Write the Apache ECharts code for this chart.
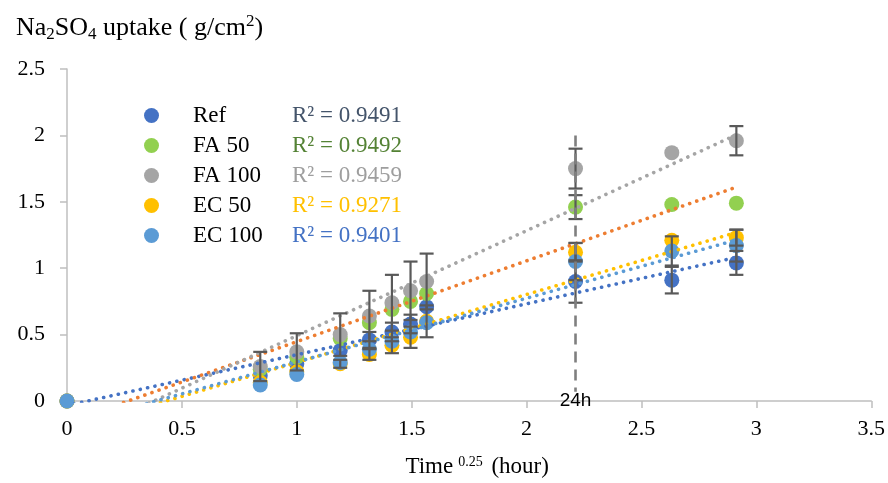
<!DOCTYPE html>
<html>
<head>
<meta charset="utf-8">
<script src="https://cdn.jsdelivr.net/npm/echarts@6/dist/echarts.min.js"></script>
<style>
  html, body { margin: 0; padding: 0; background: #ffffff; }
  #chart { width: 888px; height: 483px; }
</style>
</head>
<body>
<div id="chart"></div>
<script>
// Time^0.25 for 0, 0.5, 1, 2, 3, 4, 5, 6, 24, 48, 72 hours
const timeRoot = [0, 0.841, 1, 1.189, 1.316, 1.414, 1.495, 1.565, 2.213, 2.632, 2.913];

// Na2SO4 uptake (g/cm2) per mix
const refUptake   = [0, 0.19, 0.28, 0.38, 0.46, 0.52, 0.58, 0.71, 0.90, 0.91, 1.04];
const fa50Uptake  = [0, 0.24, 0.33, 0.47, 0.59, 0.69, 0.75, 0.81, 1.46, 1.48, 1.49];
const fa100Uptake = [0, 0.26, 0.37, 0.50, 0.64, 0.74, 0.83, 0.90, 1.75, 1.87, 1.96];
const ec50Uptake  = [0, 0.14, 0.22, 0.28, 0.35, 0.42, 0.48, 0.60, 1.12, 1.21, 1.23];
const ec100Uptake = [0, 0.12, 0.20, 0.29, 0.39, 0.45, 0.52, 0.59, 1.05, 1.13, 1.17];

// Standard deviations (null = no error bar shown)
const refErr   = [null, null, null, null, 0.06, 0.07, 0.07, null, 0.16, 0.10, 0.09];
const fa50Err  = [null, null, null, null, null, null, null, null, 0.09, null, null];
const fa100Err = [null, 0.11, 0.14, 0.16, 0.19, 0.21, 0.22, 0.21, 0.15, null, 0.11];
const ec50Err  = [null, null, null, 0.03, 0.04, 0.06, 0.08, 0.12, 0.07, null, 0.06];
const ec100Err = [null, null, null, null, null, null, null, null, 0.14, 0.11, 0.12];

const seriesNames = ['Ref', 'FA 50', 'FA 100', 'EC 50', 'EC 100'];
const r2Labels = ['0.9491', '0.9492', '0.9459', '0.9271', '0.9401'];

const xTicks = [0, 0.5, 1, 1.5, 2, 2.5, 3, 3.5];
const yTicks = [0, 0.5, 1, 1.5, 2, 2.5];

// Vertical marker at 24 h
const marker24h = { x: 2.213, yTop: 2.0, yBottom: 0.07, label: '24h' };

const markerColors = ['#4472C4', '#92D050', '#A5A5A5', '#FFC000', '#5B9BD5'];
const trendColors  = ['#4472C4', '#ED7D31', '#A5A5A5', '#FFC000', '#5B9BD5'];
const r2Colors     = ['#44546A', '#548235', '#9E9E9E', '#FFC000', '#4472C4'];

const uptake = [refUptake, fa50Uptake, fa100Uptake, ec50Uptake, ec100Uptake];
const errors = [refErr, fa50Err, fa100Err, ec50Err, ec100Err];

const serif = 'Liberation Serif';

// Least-squares linear fit, drawn over the measured time range
function linearFit(xs, ys) {
  const n = xs.length;
  const mx = xs.reduce((a, b) => a + b, 0) / n;
  const my = ys.reduce((a, b) => a + b, 0) / n;
  let sxy = 0, sxx = 0;
  for (let i = 0; i < n; i++) {
    sxy += (xs[i] - mx) * (ys[i] - my);
    sxx += (xs[i] - mx) * (xs[i] - mx);
  }
  const slope = sxy / sxx;
  return { slope, intercept: my - slope * mx };
}

const series = [];

// Scatter markers
seriesNames.forEach((name, i) => {
  series.push({
    name,
    type: 'scatter',
    symbol: 'circle',
    symbolSize: 15,
    itemStyle: { color: markerColors[i], opacity: 1 },
    z: 2,
    data: timeRoot.map((t, k) => [t, uptake[i][k]])
  });
});

// Error bars
const errData = [];
errors.forEach((arr, i) => {
  arr.forEach((e, k) => {
    if (e != null) errData.push([timeRoot[k], uptake[i][k], e]);
  });
});
series.push({
  type: 'custom',
  name: 'errors',
  z: 4,
  silent: true,
  renderItem: function (params, api) {
    const x = api.value(0), y = api.value(1), e = api.value(2);
    const top = api.coord([x, y + e]);
    const bot = api.coord([x, Math.max(0, y - e)]);
    const half = 7;
    const style = { stroke: '#595959', lineWidth: 2.2 };
    return {
      type: 'group',
      children: [
        { type: 'line', shape: { x1: top[0], y1: top[1], x2: bot[0], y2: bot[1] }, style },
        { type: 'line', shape: { x1: top[0] - half, y1: top[1], x2: top[0] + half, y2: top[1] }, style },
        { type: 'line', shape: { x1: bot[0] - half, y1: bot[1], x2: bot[0] + half, y2: bot[1] }, style }
      ]
    };
  },
  data: errData
});

// Linear trendlines (dotted)
seriesNames.forEach((name, i) => {
  const fit = linearFit(timeRoot, uptake[i]);
  const x0 = timeRoot[0], x1 = timeRoot[timeRoot.length - 1];
  series.push({
    name: name + ' trend',
    type: 'line',
    symbol: 'none',
    clip: true,
    silent: true,
    z: 3,
    lineStyle: { color: trendColors[i], width: 3.6, type: [0.1, 7.4], cap: 'round' },
    data: [[x0, fit.intercept + fit.slope * x0], [x1, fit.intercept + fit.slope * x1]]
  });
});

// 24 h dashed line and label
series.push({
  type: 'line',
  name: '24h',
  symbol: 'none',
  silent: true,
  z: 5,
  lineStyle: { color: '#7F7F7F', width: 2.6, type: [11, 7] },
  data: [[marker24h.x, marker24h.yTop], [marker24h.x, marker24h.yBottom]],
  markPoint: {
    symbol: 'circle',
    symbolSize: 0,
    silent: true,
    label: {
      show: true,
      formatter: marker24h.label,
      fontFamily: 'Liberation Sans',
      fontSize: 19,
      color: '#000',
      position: 'inside'
    },
    data: [{ coord: [marker24h.x, 0.0] }]
  }
});

const legendRich = { s: { width: 29 }, n: { width: 99, fontFamily: serif, fontSize: 23, color: '#000' } };
r2Colors.forEach((c, i) => {
  legendRich['r' + i] = { fontFamily: serif, fontSize: 23, color: c };
});

const option = {
  backgroundColor: '#ffffff',
  animation: false,
  title: {
    text: 'Na{sub|2}SO{sub|4} uptake ( g/cm{sup|2})',
    left: 11,
    top: 8,
    textStyle: {
      fontFamily: serif,
      fontSize: 26,
      fontWeight: 'normal',
      color: '#000',
      lineHeight: 30,
      rich: {
        sub: { fontFamily: serif, fontSize: 17, verticalAlign: 'bottom', lineHeight: 20, color: '#000' },
        sup: { fontFamily: serif, fontSize: 17, verticalAlign: 'top', lineHeight: 20, color: '#000' }
      }
    }
  },
  legend: {
    data: seriesNames,
    orient: 'vertical',
    left: 139,
    top: 98,
    icon: 'circle',
    itemWidth: 15,
    itemHeight: 15,
    itemGap: 5,
    selectedMode: false,
    formatter: function (name) {
      const i = seriesNames.indexOf(name);
      return '{s| }{n|' + name + '}{r' + i + '|R² = ' + r2Labels[i] + '}';
    },
    textStyle: { fontFamily: serif, fontSize: 23, lineHeight: 25, rich: legendRich }
  },
  grid: { left: 67, right: 13, top: 69, bottom: 79, containLabel: false },
  xAxis: {
    type: 'value',
    min: xTicks[0],
    max: xTicks[xTicks.length - 1],
    interval: 0.5,
    name: 'Time{sup|0.25} (hour)',
    nameLocation: 'middle',
    nameGap: 54,
    nameTextStyle: {
      fontFamily: serif,
      fontSize: 23,
      color: '#000',
      padding: [0, 0, 0, 16],
      rich: { sup: { fontFamily: serif, fontSize: 14, verticalAlign: 'top', lineHeight: 14, padding: [0, 3, 0, 5], color: '#000' } }
    },
    axisLine: { show: true, lineStyle: { color: '#BFBFBF', width: 1.5 } },
    axisTick: { show: true, length: 7, lineStyle: { color: '#BFBFBF', width: 1.5 } },
    splitLine: { show: false },
    axisLabel: { fontFamily: serif, fontSize: 22, color: '#000', margin: 17,
      formatter: v => String(v) }
  },
  yAxis: {
    type: 'value',
    min: yTicks[0],
    max: yTicks[yTicks.length - 1],
    interval: 0.5,
    axisLine: { show: true, lineStyle: { color: '#BFBFBF', width: 1.5 } },
    axisTick: { show: true, length: 7, lineStyle: { color: '#BFBFBF', width: 1.5 } },
    splitLine: { show: false },
    axisLabel: { fontFamily: serif, fontSize: 22, color: '#000', margin: 22,
      formatter: v => String(v) }
  },
  series
};

const chart = echarts.init(document.getElementById('chart'), null, { renderer: 'canvas' });
chart.setOption(option);
</script>
</body>
</html>
